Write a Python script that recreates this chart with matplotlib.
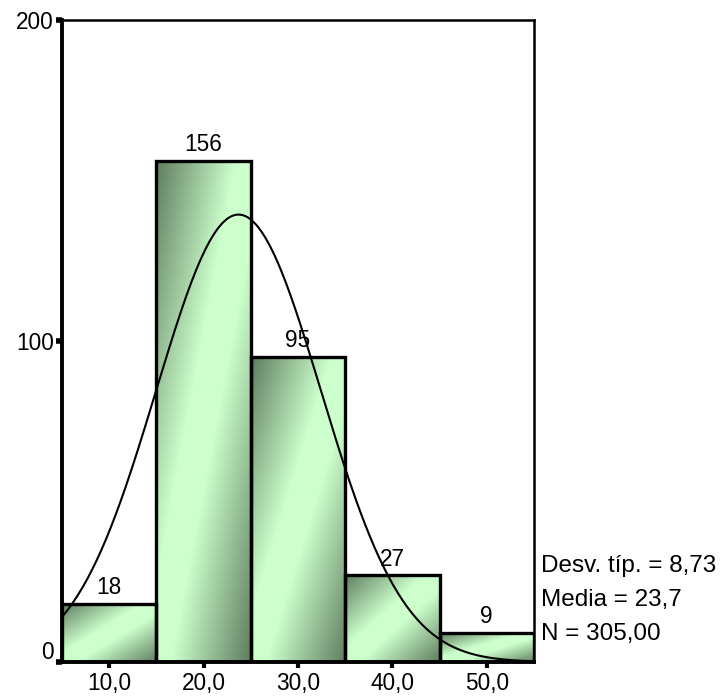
import numpy as np
import matplotlib
matplotlib.use('Agg')
import matplotlib.pyplot as plt
from matplotlib.colors import LinearSegmentedColormap
from matplotlib.patches import Rectangle
from matplotlib.transforms import ScaledTranslation

plt.rcParams['font.family'] = ['Liberation Sans', 'DejaVu Sans']

# datos del histograma
bin_edges = [5, 15, 25, 35, 45, 55]
counts = [18, 156, 95, 27, 9]
xticks = [10, 20, 30, 40, 50]
xtick_labels = ['10,0', '20,0', '30,0', '40,0', '50,0']
yticks = [0, 100, 200]
media = 23.7
desv = 8.73
n = 305
stats_lines = ['Desv. típ. = 8,73', 'Media = 23,7', 'N = 305,00']

fig = plt.figure(figsize=(7.23, 6.98), dpi=100)
ax = fig.add_axes([62 / 723, 36 / 698, 472 / 723, 642 / 698])

# degradado diagonal oscuro -> claro -> oscuro
dark = '#5f7d5f'
light = '#ccffcc'
cmap = LinearSegmentedColormap.from_list('verde', [(0, dark), (0.42, light), (0.58, light), (1, dark)])
u, v = np.meshgrid(np.linspace(0, 1, 200), np.linspace(0, 1, 200))
grad = (u + v) / 2

for i, c in enumerate(counts):
    x0, x1 = bin_edges[i], bin_edges[i + 1]
    im = ax.imshow(grad, cmap=cmap, vmin=0, vmax=1, extent=(x0, x1, 0, c),
                   aspect='auto', interpolation='bilinear', zorder=1)
    rect = Rectangle((x0, 0), x1 - x0, c, facecolor='none', edgecolor='black', lw=2.4, zorder=2)
    ax.add_patch(rect)
    im.set_clip_path(rect)
    ax.text((x0 + x1) / 2, c + 1.5, str(c), ha='center', va='bottom', fontsize=16.3, zorder=4)

# curva normal
xs = np.linspace(bin_edges[0], bin_edges[-1], 300)
w = bin_edges[1] - bin_edges[0]
ys = n * w / (desv * np.sqrt(2 * np.pi)) * np.exp(-0.5 * ((xs - media) / desv) ** 2)
ax.plot(xs, ys, color='black', lw=1.5, zorder=3)

ax.set_xlim(bin_edges[0], bin_edges[-1])
ax.set_ylim(0, 200)
ax.set_xticks(xticks)
ax.set_xticklabels(xtick_labels, fontsize=16.3)
ax.set_yticks(yticks)
ax.set_yticklabels([str(t) for t in yticks], fontsize=16.3)
ax.tick_params(axis='x', length=4, width=3, pad=3)
ax.tick_params(axis='y', length=4, width=4, pad=2)

# la etiqueta 0 aparece algo por encima de su marca
lab0 = ax.get_yticklabels()[0]
lab0.set_transform(lab0.get_transform() + ScaledTranslation(0, 12 / 100, fig.dpi_scale_trans))

for s in ['left', 'bottom']:
    ax.spines[s].set_linewidth(2.8)
for s in ['top', 'right']:
    ax.spines[s].set_linewidth(1.8)

for k, line in enumerate(stats_lines):
    fig.text(541 / 723, 1 - (566 + 34 * k) / 698, line, ha='left', va='center', fontsize=17.5)

fig.savefig('out.png', dpi=100)
